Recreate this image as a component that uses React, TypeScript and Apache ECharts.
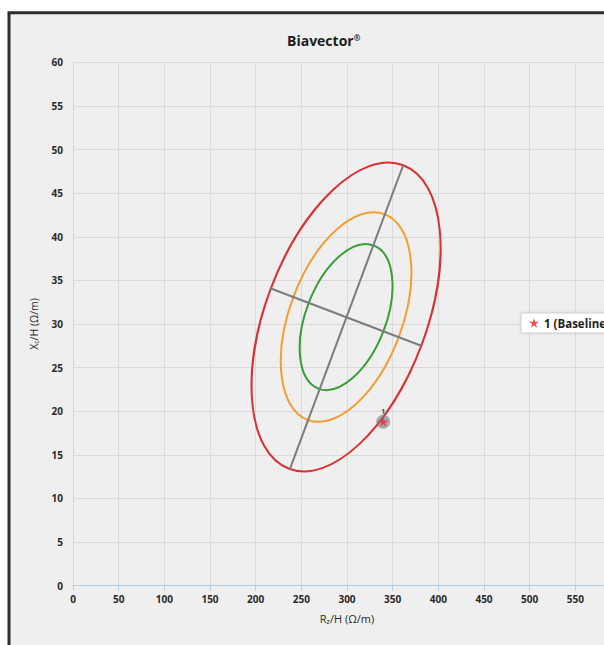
import React, { useEffect, useRef } from "react";
import * as echarts from "echarts";

// ---- data ----
const xTicks = [0, 50, 100, 150, 200, 250, 300, 350, 400, 450, 500, 550, 600];
const yTicks = [0, 5, 10, 15, 20, 25, 30, 35, 40, 45, 50, 55, 60];
const ellipseNames = ["50%", "75%", "95%"];
const ellipseColors = ["#3a9d3a", "#f0a030", "#d93131"];
const ellipseCenter = [299, 30.8];
// points where the major / minor axes meet each tolerance ellipse
const majorTips = [
  [329.3, 39.0],
  [341.0, 42.6],
  [361.5, 48.2],
];
const minorTips = [
  [339.6, 29.1],
  [356.7, 28.5],
  [381.3, 27.5],
];
const majorAxisLine = [
  [237.2, 13.3],
  [361.5, 48.2],
];
const minorAxisLine = [
  [216.0, 34.1],
  [381.3, 27.5],
];
const baselineName = "1 (Baseline)";
const baselinePoint = [339.6, 18.8];

const STAR =
  "path://M50,0 L61.2,34.5 L97.6,34.5 L68.2,55.9 L79.4,90.5 L50,69.1 L20.6,90.5 L31.8,55.9 L2.4,34.5 L38.8,34.5 Z";

export default function App() {
  const ref = useRef<HTMLDivElement>(null);

  useEffect(() => {
    if (!ref.current) return;
    const chart = echarts.init(ref.current, null, { renderer: "svg" });
    const font = "'Open Sans', 'Noto Sans', sans-serif";
    const labelStyle = {
      fontSize: 10,
      fontWeight: "bold" as const,
      color: "#2a2a2a",
      fontFamily: font,
    };

    const ellipseData = ellipseNames.map((n, i) => ({
      name: n,
      value: [
        ellipseCenter[0],
        ellipseCenter[1],
        majorTips[i][0],
        majorTips[i][1],
        minorTips[i][0],
        minorTips[i][1],
      ],
    }));

    chart.setOption({
      animation: false,
      backgroundColor: "#ffffff",
      graphic: [
        {
          type: "rect",
          z: -100,
          silent: true,
          shape: { x: 9, y: 12.7, width: 720, height: 720 },
          style: { fill: "#efefef", stroke: "#2c2c2c", lineWidth: 3 },
        },
      ],
      title: {
        text: "Biavector{s|®}",
        left: 282,
        top: 28,
        textStyle: {
          fontSize: 14,
          fontWeight: "bold",
          color: "#1e1e1e",
          fontFamily: font,
          rich: {
            s: {
              fontSize: 8,
              fontWeight: "bold",
              color: "#1e1e1e",
              verticalAlign: "top",
              padding: [0, 0, 6, 0],
            },
          },
        },
      },
      legend: {
        data: [{ name: baselineName, icon: STAR }],
        left: 521,
        top: 313,
        padding: [4, 8, 4, 8],
        itemWidth: 10,
        itemHeight: 10,
        itemGap: 6,
        backgroundColor: "#ffffff",
        borderColor: "#cfcfcf",
        borderWidth: 1,
        shadowBlur: 3,
        shadowColor: "rgba(0,0,0,0.12)",
        textStyle: { ...labelStyle, fontSize: 11.5, color: "#1e1e1e" },
      },
      grid: {
        left: 73,
        top: 62.3,
        width: 548,
        height: 523.4,
        outerBoundsMode: "none",
        containLabel: false,
      },
      xAxis: {
        type: "value",
        min: xTicks[0],
        max: xTicks[xTicks.length - 1],
        interval: xTicks[1] - xTicks[0],
        name: "R{sub|z}/H (Ω/m)",
        nameLocation: "middle",
        nameGap: 26,
        nameTextStyle: {
          fontSize: 11,
          color: "#2a2a2a",
          fontFamily: font,
          rich: { sub: { fontSize: 7, color: "#2a2a2a", padding: [6, 0, 0, 0] } },
        },
        axisLine: { show: true, lineStyle: { color: "#afcde3", width: 1 } },
        axisTick: { show: true, length: 5, lineStyle: { color: "#afcde3" } },
        axisLabel: { ...labelStyle, margin: 8 },
        splitLine: { show: true, lineStyle: { color: "#dadada", width: 1 } },
      },
      yAxis: {
        type: "value",
        min: yTicks[0],
        max: yTicks[yTicks.length - 1],
        interval: yTicks[1] - yTicks[0],
        name: "X{sub|c}/H (Ω/m)",
        nameLocation: "middle",
        nameGap: 33,
        nameTextStyle: {
          fontSize: 10.5,
          color: "#2a2a2a",
          fontFamily: font,
          rich: { sub: { fontSize: 7, color: "#2a2a2a", padding: [6, 0, 0, 0] } },
        },
        axisLine: { show: false },
        axisTick: { show: false },
        axisLabel: { ...labelStyle, margin: 10 },
        splitLine: { show: true, lineStyle: { color: "#dadada", width: 1 } },
      },
      series: [
        {
          type: "custom",
          name: "ellipses",
          coordinateSystem: "cartesian2d",
          encode: { x: [0, 2, 4], y: [1, 3, 5] },
          data: ellipseData,
          silent: true,
          renderItem: (params: any, api: any) => {
            const c = api.coord([api.value(0), api.value(1)]);
            const m = api.coord([api.value(2), api.value(3)]);
            const n = api.coord([api.value(4), api.value(5)]);
            const rx = Math.hypot(m[0] - c[0], m[1] - c[1]);
            const ry = Math.hypot(n[0] - c[0], n[1] - c[1]);
            const rot = -Math.atan2(m[1] - c[1], m[0] - c[0]);
            return {
              type: "ellipse",
              x: c[0],
              y: c[1],
              rotation: rot,
              shape: { cx: 0, cy: 0, rx, ry },
              style: {
                fill: "none",
                stroke: ellipseColors[params.dataIndex],
                lineWidth: 2,
              },
            };
          },
        },
        {
          type: "line",
          name: "major",
          data: majorAxisLine,
          symbol: "none",
          silent: true,
          lineStyle: { color: "#7c7c7c", width: 2 },
        },
        {
          type: "line",
          name: "minor",
          data: minorAxisLine,
          symbol: "none",
          silent: true,
          lineStyle: { color: "#7c7c7c", width: 2 },
        },
        {
          type: "scatter",
          name: "halo",
          data: [baselinePoint],
          symbol: "circle",
          symbolSize: 14,
          silent: true,
          itemStyle: { color: "rgba(120,120,120,0.75)" },
        },
        {
          type: "scatter",
          name: baselineName,
          data: [baselinePoint],
          symbol: STAR,
          symbolSize: 10,
          itemStyle: { color: "#ec2b2b" },
          label: {
            show: true,
            position: "top",
            distance: 2,
            formatter: "1",
            fontSize: 7,
            fontWeight: "bold",
            color: "#111",
            fontFamily: font,
          },
        },
      ],
    });
    return () => chart.dispose();
  }, []);

  return (
    <div
      ref={ref}
      style={{ position: "absolute", left: 0, top: 0, width: 604, height: 645 }}
    />
  );
}
